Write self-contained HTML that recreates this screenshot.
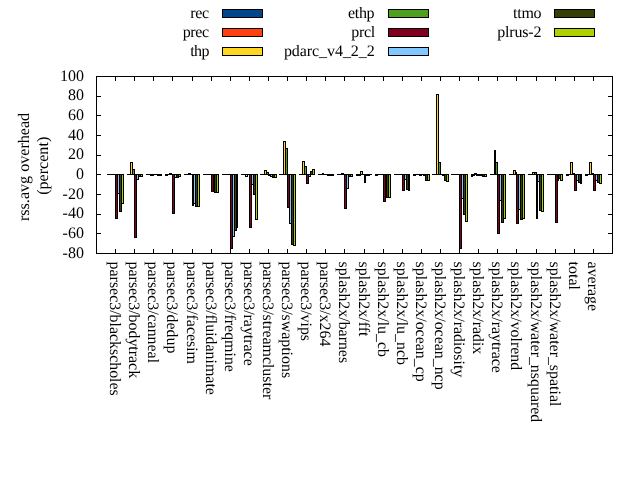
<!DOCTYPE html>
<html><head><meta charset="utf-8"><title>rss.avg overhead</title>
<style>html,body{margin:0;padding:0;background:#fff;overflow:hidden}svg{display:block}text{font-family:"Liberation Serif","Times New Roman",serif;font-size:16px;fill:#000;text-rendering:geometricPrecision}</style></head>
<body>
<svg width="640" height="480" viewBox="0 0 640 480">
<rect width="640" height="480" fill="#fff"/>
<g shape-rendering="crispEdges">
<rect x="107" y="174" width="3" height="1" fill="#000"/><rect x="127" y="174" width="2" height="1" fill="#000"/><rect x="146" y="174" width="3" height="1" fill="#000"/><rect x="165" y="174" width="3" height="2" fill="#000"/><rect x="184" y="174" width="3" height="1" fill="#000"/><rect x="203" y="174" width="3" height="1" fill="#000"/><rect x="222" y="174" width="3" height="1" fill="#000"/><rect x="241" y="174" width="3" height="1" fill="#000"/><rect x="260" y="174" width="3" height="1" fill="#000"/><rect x="279" y="174" width="3" height="1" fill="#000"/><rect x="299" y="174" width="2" height="1" fill="#000"/><rect x="318" y="174" width="3" height="1" fill="#000"/><rect x="337" y="174" width="3" height="1" fill="#000"/><rect x="356" y="174" width="3" height="2" fill="#000"/><rect x="375" y="174" width="3" height="2" fill="#000"/><rect x="394" y="174" width="3" height="1" fill="#000"/><rect x="413" y="174" width="3" height="2" fill="#000"/><rect x="432" y="174" width="3" height="1" fill="#000"/><rect x="451" y="174" width="3" height="1" fill="#000"/><rect x="471" y="174" width="2" height="3" fill="#000"/><rect x="490" y="174" width="3" height="1" fill="#000"/><rect x="509" y="174" width="3" height="1" fill="#000"/><rect x="528" y="174" width="3" height="1" fill="#000"/><rect x="547" y="174" width="3" height="1" fill="#000"/><rect x="566" y="174" width="3" height="2" fill="#000"/><rect x="585" y="174" width="3" height="2" fill="#000"/>
<rect x="109" y="174" width="3" height="1" fill="#000"/><rect x="128" y="174" width="3" height="1" fill="#000"/><rect x="148" y="174" width="3" height="1" fill="#000"/><rect x="167" y="174" width="3" height="1" fill="#000"/><rect x="186" y="174" width="3" height="1" fill="#000"/><rect x="205" y="174" width="3" height="1" fill="#000"/><rect x="224" y="174" width="3" height="1" fill="#000"/><rect x="243" y="174" width="3" height="1" fill="#000"/><rect x="262" y="174" width="3" height="1" fill="#000"/><rect x="281" y="174" width="3" height="1" fill="#000"/><rect x="300" y="174" width="3" height="1" fill="#000"/><rect x="320" y="174" width="3" height="1" fill="#000"/><rect x="339" y="174" width="3" height="1" fill="#000"/><rect x="358" y="174" width="3" height="2" fill="#000"/><rect x="377" y="174" width="3" height="1" fill="#000"/><rect x="396" y="174" width="3" height="1" fill="#000"/><rect x="415" y="174" width="3" height="1" fill="#000"/><rect x="434" y="174" width="3" height="1" fill="#000"/><rect x="453" y="174" width="3" height="1" fill="#000"/><rect x="472" y="174" width="3" height="2" fill="#000"/><rect x="492" y="174" width="3" height="1" fill="#000"/><rect x="511" y="174" width="3" height="1" fill="#000"/><rect x="530" y="174" width="3" height="1" fill="#000"/><rect x="549" y="174" width="3" height="1" fill="#000"/><rect x="568" y="174" width="3" height="1" fill="#000"/><rect x="587" y="174" width="3" height="1" fill="#000"/>
<rect x="111" y="174" width="3" height="1" fill="#000"/><rect x="130" y="162" width="3" height="13" fill="#000"/><rect x="131" y="163" width="1" height="11" fill="#ffd720"/><rect x="150" y="174" width="2" height="2" fill="#000"/><rect x="169" y="173" width="3" height="2" fill="#000"/><rect x="188" y="173" width="3" height="2" fill="#000"/><rect x="207" y="174" width="3" height="1" fill="#000"/><rect x="226" y="174" width="3" height="1" fill="#000"/><rect x="245" y="174" width="3" height="3" fill="#000"/><rect x="246" y="175" width="1" height="1" fill="#ffd720"/><rect x="264" y="170" width="3" height="5" fill="#000"/><rect x="265" y="171" width="1" height="3" fill="#ffd720"/><rect x="283" y="141" width="3" height="34" fill="#000"/><rect x="284" y="142" width="1" height="32" fill="#ffd720"/><rect x="302" y="161" width="3" height="14" fill="#000"/><rect x="303" y="162" width="1" height="12" fill="#ffd720"/><rect x="322" y="173" width="2" height="2" fill="#000"/><rect x="341" y="173" width="3" height="2" fill="#000"/><rect x="360" y="171" width="3" height="4" fill="#000"/><rect x="361" y="172" width="1" height="2" fill="#ffd720"/><rect x="379" y="174" width="3" height="1" fill="#000"/><rect x="398" y="174" width="3" height="1" fill="#000"/><rect x="417" y="174" width="3" height="1" fill="#000"/><rect x="436" y="94" width="3" height="81" fill="#000"/><rect x="437" y="95" width="1" height="79" fill="#ffd720"/><rect x="455" y="174" width="3" height="1" fill="#000"/><rect x="474" y="173" width="3" height="2" fill="#000"/><rect x="494" y="150" width="2" height="25" fill="#000"/><rect x="513" y="170" width="3" height="5" fill="#000"/><rect x="514" y="171" width="1" height="3" fill="#ffd720"/><rect x="532" y="172" width="3" height="3" fill="#000"/><rect x="533" y="173" width="1" height="1" fill="#ffd720"/><rect x="551" y="174" width="3" height="1" fill="#000"/><rect x="570" y="162" width="3" height="13" fill="#000"/><rect x="571" y="163" width="1" height="11" fill="#ffd720"/><rect x="589" y="162" width="3" height="13" fill="#000"/><rect x="590" y="163" width="1" height="11" fill="#ffd720"/>
<rect x="113" y="174" width="3" height="1" fill="#000"/><rect x="132" y="169" width="3" height="6" fill="#000"/><rect x="133" y="170" width="1" height="4" fill="#50a020"/><rect x="151" y="174" width="3" height="2" fill="#000"/><rect x="171" y="174" width="2" height="1" fill="#000"/><rect x="190" y="174" width="3" height="1" fill="#000"/><rect x="209" y="174" width="3" height="1" fill="#000"/><rect x="228" y="174" width="3" height="1" fill="#000"/><rect x="247" y="174" width="3" height="1" fill="#000"/><rect x="266" y="172" width="3" height="3" fill="#000"/><rect x="267" y="173" width="1" height="1" fill="#50a020"/><rect x="285" y="148" width="3" height="27" fill="#000"/><rect x="286" y="149" width="1" height="25" fill="#50a020"/><rect x="304" y="166" width="3" height="9" fill="#000"/><rect x="305" y="167" width="1" height="7" fill="#50a020"/><rect x="323" y="174" width="3" height="1" fill="#000"/><rect x="343" y="174" width="2" height="1" fill="#000"/><rect x="362" y="174" width="3" height="1" fill="#000"/><rect x="381" y="174" width="3" height="1" fill="#000"/><rect x="400" y="174" width="3" height="1" fill="#000"/><rect x="419" y="174" width="3" height="2" fill="#000"/><rect x="438" y="162" width="3" height="13" fill="#000"/><rect x="439" y="163" width="1" height="11" fill="#50a020"/><rect x="457" y="174" width="3" height="1" fill="#000"/><rect x="476" y="174" width="3" height="2" fill="#000"/><rect x="495" y="162" width="3" height="13" fill="#000"/><rect x="496" y="163" width="1" height="11" fill="#50a020"/><rect x="515" y="172" width="2" height="3" fill="#000"/><rect x="534" y="172" width="3" height="3" fill="#000"/><rect x="535" y="173" width="1" height="1" fill="#50a020"/><rect x="553" y="174" width="3" height="1" fill="#000"/><rect x="572" y="173" width="3" height="2" fill="#000"/><rect x="591" y="173" width="3" height="2" fill="#000"/>
<rect x="115" y="174" width="3" height="45" fill="#000"/><rect x="116" y="175" width="1" height="43" fill="#800020"/><rect x="134" y="174" width="3" height="64" fill="#000"/><rect x="135" y="175" width="1" height="62" fill="#800020"/><rect x="153" y="174" width="3" height="1" fill="#000"/><rect x="172" y="174" width="3" height="40" fill="#000"/><rect x="173" y="175" width="1" height="38" fill="#800020"/><rect x="192" y="174" width="2" height="32" fill="#000"/><rect x="211" y="174" width="3" height="18" fill="#000"/><rect x="212" y="175" width="1" height="16" fill="#800020"/><rect x="230" y="174" width="3" height="75" fill="#000"/><rect x="231" y="175" width="1" height="73" fill="#800020"/><rect x="249" y="174" width="3" height="54" fill="#000"/><rect x="250" y="175" width="1" height="52" fill="#800020"/><rect x="268" y="174" width="3" height="2" fill="#000"/><rect x="287" y="174" width="3" height="34" fill="#000"/><rect x="288" y="175" width="1" height="32" fill="#800020"/><rect x="306" y="174" width="3" height="10" fill="#000"/><rect x="307" y="175" width="1" height="8" fill="#800020"/><rect x="325" y="174" width="3" height="1" fill="#000"/><rect x="344" y="174" width="3" height="35" fill="#000"/><rect x="345" y="175" width="1" height="33" fill="#800020"/><rect x="364" y="174" width="2" height="9" fill="#000"/><rect x="383" y="174" width="3" height="28" fill="#000"/><rect x="384" y="175" width="1" height="26" fill="#800020"/><rect x="402" y="174" width="3" height="17" fill="#000"/><rect x="403" y="175" width="1" height="15" fill="#800020"/><rect x="421" y="174" width="3" height="1" fill="#000"/><rect x="440" y="174" width="3" height="1" fill="#000"/><rect x="459" y="174" width="3" height="75" fill="#000"/><rect x="460" y="175" width="1" height="73" fill="#800020"/><rect x="478" y="174" width="3" height="2" fill="#000"/><rect x="497" y="174" width="3" height="60" fill="#000"/><rect x="498" y="175" width="1" height="58" fill="#800020"/><rect x="516" y="174" width="3" height="50" fill="#000"/><rect x="517" y="175" width="1" height="48" fill="#800020"/><rect x="536" y="174" width="2" height="45" fill="#000"/><rect x="555" y="174" width="3" height="49" fill="#000"/><rect x="556" y="175" width="1" height="47" fill="#800020"/><rect x="574" y="174" width="3" height="17" fill="#000"/><rect x="575" y="175" width="1" height="15" fill="#800020"/><rect x="593" y="174" width="3" height="17" fill="#000"/><rect x="594" y="175" width="1" height="15" fill="#800020"/>
<rect x="117" y="174" width="3" height="20" fill="#000"/><rect x="118" y="175" width="1" height="18" fill="#80c8ff"/><rect x="136" y="174" width="3" height="6" fill="#000"/><rect x="137" y="175" width="1" height="4" fill="#80c8ff"/><rect x="155" y="174" width="3" height="1" fill="#000"/><rect x="174" y="174" width="3" height="4" fill="#000"/><rect x="175" y="175" width="1" height="2" fill="#80c8ff"/><rect x="193" y="174" width="3" height="30" fill="#000"/><rect x="194" y="175" width="1" height="28" fill="#80c8ff"/><rect x="213" y="174" width="2" height="1" fill="#000"/><rect x="232" y="174" width="3" height="63" fill="#000"/><rect x="233" y="175" width="1" height="61" fill="#80c8ff"/><rect x="251" y="174" width="3" height="11" fill="#000"/><rect x="252" y="175" width="1" height="9" fill="#80c8ff"/><rect x="270" y="174" width="3" height="3" fill="#000"/><rect x="271" y="175" width="1" height="1" fill="#80c8ff"/><rect x="289" y="174" width="3" height="50" fill="#000"/><rect x="290" y="175" width="1" height="48" fill="#80c8ff"/><rect x="308" y="174" width="3" height="3" fill="#000"/><rect x="309" y="175" width="1" height="1" fill="#80c8ff"/><rect x="327" y="174" width="3" height="2" fill="#000"/><rect x="346" y="174" width="3" height="15" fill="#000"/><rect x="347" y="175" width="1" height="13" fill="#80c8ff"/><rect x="365" y="174" width="3" height="2" fill="#000"/><rect x="385" y="174" width="2" height="24" fill="#000"/><rect x="404" y="174" width="3" height="6" fill="#000"/><rect x="405" y="175" width="1" height="4" fill="#80c8ff"/><rect x="423" y="174" width="3" height="2" fill="#000"/><rect x="442" y="174" width="3" height="2" fill="#000"/><rect x="461" y="174" width="3" height="25" fill="#000"/><rect x="462" y="175" width="1" height="23" fill="#80c8ff"/><rect x="480" y="174" width="3" height="2" fill="#000"/><rect x="499" y="174" width="3" height="27" fill="#000"/><rect x="500" y="175" width="1" height="25" fill="#80c8ff"/><rect x="518" y="174" width="3" height="36" fill="#000"/><rect x="519" y="175" width="1" height="34" fill="#80c8ff"/><rect x="537" y="174" width="3" height="8" fill="#000"/><rect x="538" y="175" width="1" height="6" fill="#80c8ff"/><rect x="557" y="174" width="2" height="7" fill="#000"/><rect x="576" y="174" width="3" height="7" fill="#000"/><rect x="577" y="175" width="1" height="5" fill="#80c8ff"/><rect x="595" y="174" width="3" height="7" fill="#000"/><rect x="596" y="175" width="1" height="5" fill="#80c8ff"/>
<rect x="119" y="174" width="3" height="38" fill="#000"/><rect x="120" y="175" width="1" height="36" fill="#344008"/><rect x="138" y="174" width="3" height="3" fill="#000"/><rect x="139" y="175" width="1" height="1" fill="#344008"/><rect x="157" y="174" width="3" height="2" fill="#000"/><rect x="176" y="174" width="3" height="4" fill="#000"/><rect x="177" y="175" width="1" height="2" fill="#344008"/><rect x="195" y="174" width="3" height="33" fill="#000"/><rect x="196" y="175" width="1" height="31" fill="#344008"/><rect x="214" y="174" width="3" height="19" fill="#000"/><rect x="215" y="175" width="1" height="17" fill="#344008"/><rect x="234" y="174" width="3" height="57" fill="#000"/><rect x="235" y="175" width="1" height="55" fill="#344008"/><rect x="253" y="174" width="3" height="21" fill="#000"/><rect x="254" y="175" width="1" height="19" fill="#344008"/><rect x="272" y="174" width="3" height="4" fill="#000"/><rect x="273" y="175" width="1" height="2" fill="#344008"/><rect x="291" y="174" width="3" height="71" fill="#000"/><rect x="292" y="175" width="1" height="69" fill="#344008"/><rect x="310" y="171" width="3" height="4" fill="#000"/><rect x="311" y="172" width="1" height="2" fill="#344008"/><rect x="329" y="174" width="3" height="2" fill="#000"/><rect x="348" y="174" width="3" height="3" fill="#000"/><rect x="349" y="175" width="1" height="1" fill="#344008"/><rect x="367" y="174" width="3" height="2" fill="#000"/><rect x="386" y="174" width="3" height="24" fill="#000"/><rect x="387" y="175" width="1" height="22" fill="#344008"/><rect x="406" y="174" width="3" height="16" fill="#000"/><rect x="407" y="175" width="1" height="14" fill="#344008"/><rect x="425" y="174" width="3" height="7" fill="#000"/><rect x="426" y="175" width="1" height="5" fill="#344008"/><rect x="444" y="174" width="3" height="7" fill="#000"/><rect x="445" y="175" width="1" height="5" fill="#344008"/><rect x="463" y="174" width="3" height="41" fill="#000"/><rect x="464" y="175" width="1" height="39" fill="#344008"/><rect x="482" y="174" width="3" height="3" fill="#000"/><rect x="483" y="175" width="1" height="1" fill="#344008"/><rect x="501" y="174" width="3" height="49" fill="#000"/><rect x="502" y="175" width="1" height="47" fill="#344008"/><rect x="520" y="174" width="3" height="46" fill="#000"/><rect x="521" y="175" width="1" height="44" fill="#344008"/><rect x="539" y="174" width="3" height="37" fill="#000"/><rect x="540" y="175" width="1" height="35" fill="#344008"/><rect x="558" y="174" width="3" height="5" fill="#000"/><rect x="559" y="175" width="1" height="3" fill="#344008"/><rect x="578" y="174" width="3" height="9" fill="#000"/><rect x="579" y="175" width="1" height="7" fill="#344008"/><rect x="597" y="174" width="3" height="9" fill="#000"/><rect x="598" y="175" width="1" height="7" fill="#344008"/>
<rect x="121" y="174" width="3" height="30" fill="#000"/><rect x="122" y="175" width="1" height="28" fill="#b0d000"/><rect x="140" y="174" width="3" height="3" fill="#000"/><rect x="141" y="175" width="1" height="1" fill="#b0d000"/><rect x="159" y="174" width="3" height="2" fill="#000"/><rect x="178" y="174" width="3" height="3" fill="#000"/><rect x="179" y="175" width="1" height="1" fill="#b0d000"/><rect x="197" y="174" width="3" height="33" fill="#000"/><rect x="198" y="175" width="1" height="31" fill="#b0d000"/><rect x="216" y="174" width="3" height="19" fill="#000"/><rect x="217" y="175" width="1" height="17" fill="#b0d000"/><rect x="236" y="174" width="2" height="54" fill="#000"/><rect x="255" y="174" width="3" height="46" fill="#000"/><rect x="256" y="175" width="1" height="44" fill="#b0d000"/><rect x="274" y="174" width="3" height="4" fill="#000"/><rect x="275" y="175" width="1" height="2" fill="#b0d000"/><rect x="293" y="174" width="3" height="72" fill="#000"/><rect x="294" y="175" width="1" height="70" fill="#b0d000"/><rect x="312" y="169" width="3" height="6" fill="#000"/><rect x="313" y="170" width="1" height="4" fill="#b0d000"/><rect x="331" y="174" width="3" height="2" fill="#000"/><rect x="350" y="174" width="3" height="3" fill="#000"/><rect x="351" y="175" width="1" height="1" fill="#b0d000"/><rect x="369" y="174" width="3" height="1" fill="#000"/><rect x="388" y="174" width="3" height="24" fill="#000"/><rect x="389" y="175" width="1" height="22" fill="#b0d000"/><rect x="408" y="174" width="2" height="17" fill="#000"/><rect x="427" y="174" width="3" height="7" fill="#000"/><rect x="428" y="175" width="1" height="5" fill="#b0d000"/><rect x="446" y="174" width="3" height="8" fill="#000"/><rect x="447" y="175" width="1" height="6" fill="#b0d000"/><rect x="465" y="174" width="3" height="48" fill="#000"/><rect x="466" y="175" width="1" height="46" fill="#b0d000"/><rect x="484" y="174" width="3" height="3" fill="#000"/><rect x="485" y="175" width="1" height="1" fill="#b0d000"/><rect x="503" y="174" width="3" height="45" fill="#000"/><rect x="504" y="175" width="1" height="43" fill="#b0d000"/><rect x="522" y="174" width="3" height="45" fill="#000"/><rect x="523" y="175" width="1" height="43" fill="#b0d000"/><rect x="541" y="174" width="3" height="38" fill="#000"/><rect x="542" y="175" width="1" height="36" fill="#b0d000"/><rect x="560" y="174" width="3" height="7" fill="#000"/><rect x="561" y="175" width="1" height="5" fill="#b0d000"/><rect x="580" y="174" width="2" height="10" fill="#000"/><rect x="599" y="174" width="3" height="10" fill="#000"/><rect x="600" y="175" width="1" height="8" fill="#b0d000"/>
<rect x="96" y="76" width="517" height="1" fill="#000"/><rect x="96" y="253" width="517" height="1" fill="#000"/><rect x="96" y="76" width="1" height="178" fill="#000"/><rect x="612" y="76" width="1" height="178" fill="#000"/>
<rect x="96" y="76" width="5" height="1" fill="#000"/><rect x="608" y="76" width="5" height="1" fill="#000"/><rect x="96" y="96" width="5" height="1" fill="#000"/><rect x="608" y="96" width="5" height="1" fill="#000"/><rect x="96" y="115" width="5" height="1" fill="#000"/><rect x="608" y="115" width="5" height="1" fill="#000"/><rect x="96" y="135" width="5" height="1" fill="#000"/><rect x="608" y="135" width="5" height="1" fill="#000"/><rect x="96" y="155" width="5" height="1" fill="#000"/><rect x="608" y="155" width="5" height="1" fill="#000"/><rect x="96" y="174" width="5" height="1" fill="#000"/><rect x="608" y="174" width="5" height="1" fill="#000"/><rect x="96" y="194" width="5" height="1" fill="#000"/><rect x="608" y="194" width="5" height="1" fill="#000"/><rect x="96" y="214" width="5" height="1" fill="#000"/><rect x="608" y="214" width="5" height="1" fill="#000"/><rect x="96" y="233" width="5" height="1" fill="#000"/><rect x="608" y="233" width="5" height="1" fill="#000"/><rect x="96" y="253" width="5" height="1" fill="#000"/><rect x="608" y="253" width="5" height="1" fill="#000"/>
<rect x="115" y="76" width="1" height="5" fill="#000"/><rect x="115" y="249" width="1" height="5" fill="#000"/><rect x="134" y="76" width="1" height="5" fill="#000"/><rect x="134" y="249" width="1" height="5" fill="#000"/><rect x="153" y="76" width="1" height="5" fill="#000"/><rect x="153" y="249" width="1" height="5" fill="#000"/><rect x="172" y="76" width="1" height="5" fill="#000"/><rect x="172" y="249" width="1" height="5" fill="#000"/><rect x="192" y="76" width="1" height="5" fill="#000"/><rect x="192" y="249" width="1" height="5" fill="#000"/><rect x="211" y="76" width="1" height="5" fill="#000"/><rect x="211" y="249" width="1" height="5" fill="#000"/><rect x="230" y="76" width="1" height="5" fill="#000"/><rect x="230" y="249" width="1" height="5" fill="#000"/><rect x="249" y="76" width="1" height="5" fill="#000"/><rect x="249" y="249" width="1" height="5" fill="#000"/><rect x="268" y="76" width="1" height="5" fill="#000"/><rect x="268" y="249" width="1" height="5" fill="#000"/><rect x="287" y="76" width="1" height="5" fill="#000"/><rect x="287" y="249" width="1" height="5" fill="#000"/><rect x="306" y="76" width="1" height="5" fill="#000"/><rect x="306" y="249" width="1" height="5" fill="#000"/><rect x="325" y="76" width="1" height="5" fill="#000"/><rect x="325" y="249" width="1" height="5" fill="#000"/><rect x="344" y="76" width="1" height="5" fill="#000"/><rect x="344" y="249" width="1" height="5" fill="#000"/><rect x="364" y="76" width="1" height="5" fill="#000"/><rect x="364" y="249" width="1" height="5" fill="#000"/><rect x="383" y="76" width="1" height="5" fill="#000"/><rect x="383" y="249" width="1" height="5" fill="#000"/><rect x="402" y="76" width="1" height="5" fill="#000"/><rect x="402" y="249" width="1" height="5" fill="#000"/><rect x="421" y="76" width="1" height="5" fill="#000"/><rect x="421" y="249" width="1" height="5" fill="#000"/><rect x="440" y="76" width="1" height="5" fill="#000"/><rect x="440" y="249" width="1" height="5" fill="#000"/><rect x="459" y="76" width="1" height="5" fill="#000"/><rect x="459" y="249" width="1" height="5" fill="#000"/><rect x="478" y="76" width="1" height="5" fill="#000"/><rect x="478" y="249" width="1" height="5" fill="#000"/><rect x="497" y="76" width="1" height="5" fill="#000"/><rect x="497" y="249" width="1" height="5" fill="#000"/><rect x="516" y="76" width="1" height="5" fill="#000"/><rect x="516" y="249" width="1" height="5" fill="#000"/><rect x="536" y="76" width="1" height="5" fill="#000"/><rect x="536" y="249" width="1" height="5" fill="#000"/><rect x="555" y="76" width="1" height="5" fill="#000"/><rect x="555" y="249" width="1" height="5" fill="#000"/><rect x="574" y="76" width="1" height="5" fill="#000"/><rect x="574" y="249" width="1" height="5" fill="#000"/><rect x="593" y="76" width="1" height="5" fill="#000"/><rect x="593" y="249" width="1" height="5" fill="#000"/>
<rect x="222" y="9" width="41" height="9" fill="#000"/><rect x="223" y="10" width="39" height="7" fill="#00468c"/><rect x="222" y="28" width="41" height="9" fill="#000"/><rect x="223" y="29" width="39" height="7" fill="#ff4010"/><rect x="222" y="47" width="41" height="9" fill="#000"/><rect x="223" y="48" width="39" height="7" fill="#ffd720"/><rect x="388" y="9" width="41" height="9" fill="#000"/><rect x="389" y="10" width="39" height="7" fill="#50a020"/><rect x="388" y="28" width="41" height="9" fill="#000"/><rect x="389" y="29" width="39" height="7" fill="#800020"/><rect x="388" y="47" width="41" height="9" fill="#000"/><rect x="389" y="48" width="39" height="7" fill="#80c8ff"/><rect x="554" y="9" width="41" height="9" fill="#000"/><rect x="555" y="10" width="39" height="7" fill="#344008"/><rect x="554" y="28" width="41" height="9" fill="#000"/><rect x="555" y="29" width="39" height="7" fill="#b0d000"/>
</g>
<text x="190.15" y="17.9" textLength="19.05">rec</text><text x="182.65" y="36.9" textLength="26.55">prec</text><text x="190.17" y="55.9" textLength="19.43">thp</text><text x="348.0" y="17.9" textLength="26.55">ethp</text><text x="351.3" y="36.9" textLength="23.85">prcl</text><text x="283.9" y="55.9" textLength="90.83">pdarc_v4_2_2</text><text x="513.1" y="17.9" textLength="28.45">ttmo</text><text x="497.2" y="36.9" textLength="44.2">plrus-2</text>
<text x="83.9" y="80.73" text-anchor="end">100</text><text x="83.9" y="100.40" text-anchor="end">80</text><text x="83.9" y="120.06" text-anchor="end">60</text><text x="83.9" y="139.73" text-anchor="end">40</text><text x="83.9" y="159.40" text-anchor="end">20</text><text x="83.9" y="179.06" text-anchor="end">0</text><text x="83.9" y="198.73" text-anchor="end">-20</text><text x="83.9" y="218.40" text-anchor="end">-40</text><text x="83.9" y="238.06" text-anchor="end">-60</text><text x="83.9" y="257.73" text-anchor="end">-80</text>
<text transform="translate(110,261.6) rotate(90)" class="r" style="font-size:15.9px">parsec3/blackscholes</text><text transform="translate(129,261.6) rotate(90)" class="r" style="font-size:15.9px">parsec3/bodytrack</text><text transform="translate(148,261.6) rotate(90)" class="r" style="font-size:15.9px">parsec3/canneal</text><text transform="translate(167,261.6) rotate(90)" class="r" style="font-size:15.9px">parsec3/dedup</text><text transform="translate(187,261.6) rotate(90)" class="r" style="font-size:15.9px">parsec3/facesim</text><text transform="translate(206,261.6) rotate(90)" class="r" style="font-size:15.9px">parsec3/fluidanimate</text><text transform="translate(225,261.6) rotate(90)" class="r" style="font-size:15.9px">parsec3/freqmine</text><text transform="translate(244,261.6) rotate(90)" class="r" style="font-size:15.9px">parsec3/raytrace</text><text transform="translate(263,261.6) rotate(90)" class="r" style="font-size:15.9px">parsec3/streamcluster</text><text transform="translate(282,261.6) rotate(90)" class="r" style="font-size:15.9px">parsec3/swaptions</text><text transform="translate(301,261.6) rotate(90)" class="r" style="font-size:15.9px">parsec3/vips</text><text transform="translate(320,261.6) rotate(90)" class="r" style="font-size:15.9px">parsec3/x264</text><text transform="translate(339,261.6) rotate(90)" class="r" style="font-size:15.9px">splash2x/barnes</text><text transform="translate(359,261.6) rotate(90)" class="r" style="font-size:15.9px">splash2x/fft</text><text transform="translate(378,261.6) rotate(90)" class="r" style="font-size:15.9px">splash2x/lu_cb</text><text transform="translate(397,261.6) rotate(90)" class="r" style="font-size:15.9px">splash2x/lu_ncb</text><text transform="translate(416,261.6) rotate(90)" class="r" style="font-size:15.9px">splash2x/ocean_cp</text><text transform="translate(435,261.6) rotate(90)" class="r" style="font-size:15.9px">splash2x/ocean_ncp</text><text transform="translate(454,261.6) rotate(90)" class="r" style="font-size:15.9px">splash2x/radiosity</text><text transform="translate(473,261.6) rotate(90)" class="r" style="font-size:15.9px">splash2x/radix</text><text transform="translate(492,261.6) rotate(90)" class="r" style="font-size:15.9px">splash2x/raytrace</text><text transform="translate(511,261.6) rotate(90)" class="r" style="font-size:15.9px">splash2x/volrend</text><text transform="translate(531,261.6) rotate(90)" class="r" style="font-size:15.9px">splash2x/water_nsquared</text><text transform="translate(550,261.6) rotate(90)" class="r" style="font-size:15.9px">splash2x/water_spatial</text><text transform="translate(569,261.6) rotate(90)" class="r" style="font-size:15.9px">total</text><text transform="translate(588,261.6) rotate(90)" class="r" style="font-size:15.9px">average</text>
<text transform="translate(28.8,166.95) rotate(-90)" class="r" text-anchor="middle" style="font-size:16.1px">rss.avg overhead</text><text transform="translate(48.1,165.8) rotate(-90)" class="r" text-anchor="middle" style="font-size:16.1px">(percent)</text>
</svg>
</body></html>
